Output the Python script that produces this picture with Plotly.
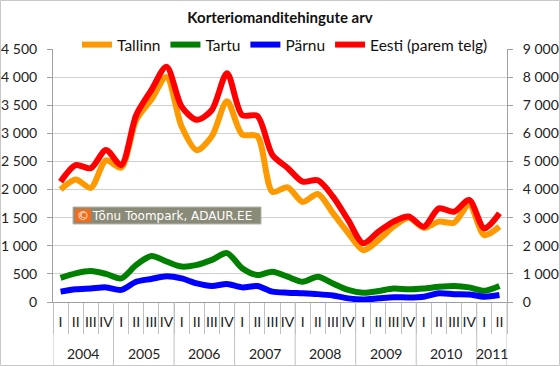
import plotly.graph_objects as go

years = ["2004", "2005", "2006", "2007", "2008", "2009", "2010", "2011"]
quarters_per_year = [4, 4, 4, 4, 4, 4, 4, 2]
quarter_names = ["I", "II", "III", "IV"]

tallinn = [2000, 2180, 2030, 2520, 2390, 3240, 3600, 4000, 3120, 2700, 2950, 3570, 2980, 2950, 1960, 2040,
           1780, 1920, 1580, 1230, 920, 1100, 1340, 1500, 1320, 1430, 1410, 1730, 1190, 1340]
tartu = [430, 510, 550, 500, 420, 660, 820, 720, 630, 660, 750, 870, 600, 480, 540, 450,
         360, 450, 330, 215, 165, 195, 240, 225, 240, 270, 285, 260, 200, 285]
parnu = [185, 225, 240, 260, 215, 360, 410, 460, 420, 330, 285, 320, 260, 285, 185, 165,
         155, 140, 115, 65, 45, 65, 85, 80, 95, 155, 140, 135, 95, 125]
eesti = [4280, 4870, 4760, 5410, 4870, 6650, 7540, 8370, 6950, 6480, 6830, 8140, 6650, 6620, 5230, 4770,
         4280, 4330, 3750, 2920, 2090, 2500, 2860, 3040, 2680, 3330, 3210, 3630, 2620, 3160]

names = ["Tallinn", "Tartu", "Pärnu", "Eesti (parem telg)"]
colors = ["#FF9900", "#008000", "#0000FF", "#FF0000"]

quarter_labels = []
for n in quarters_per_year:
    quarter_labels += quarter_names[:n]
N = len(quarter_labels)
xs = list(range(N))

fig = go.Figure()
for name, vals, col, ax in zip(names, [tallinn, tartu, parnu, eesti], colors, ["y", "y", "y", "y2"]):
    fig.add_trace(go.Scatter(x=xs, y=vals, name=name, mode="lines", yaxis=ax,
                             line=dict(color=col, width=6, shape="spline", smoothing=0.8)))

W, H = 560, 366
L, R, T, B = 53, 53, 49, 64
PW, PH = W - L - R, H - T - B


def px(xp):
    return (xp - L) / PW


def py(yp):
    return (H - B - yp) / PH


fig.update_layout(
    width=W, height=H,
    margin=dict(l=L, r=R, t=T, b=B, autoexpand=False),
    paper_bgcolor="white", plot_bgcolor="white",
    separators=", ",
    font=dict(family="Lato, Open Sans, sans-serif", size=14, color="#222222"),
    title=dict(text="<b>Korteriomanditehingute arv</b>", x=0.5, xanchor="center",
               y=1 - 18 / H, yanchor="middle", font=dict(size=15, color="#111111")),
    showlegend=True,
    legend=dict(orientation="h", x=px(77), xanchor="left",
                y=py(45), yanchor="middle",
                font=dict(size=15.5, color="#111111"), itemwidth=30,
                bgcolor="rgba(0,0,0,0)", tracegroupgap=0),
    xaxis=dict(range=[-0.5, N - 0.5], showgrid=False, showline=True, linecolor="#a0a0a0",
               tickmode="array", tickvals=xs, ticktext=quarter_labels, ticks="",
               ticklabelstandoff=7, zeroline=False,
               minor=dict(tickmode="array", tickvals=[i - 0.5 for i in range(N + 1)],
                          ticks="outside", ticklen=31, tickcolor="#c0c0c0", showgrid=False),
               tickfont=dict(size=14, color="#222222")),
    yaxis=dict(range=[0, 4500], dtick=500, tickformat=",", showgrid=True, gridcolor="#d0d0d0",
               showline=True, linecolor="#a0a0a0", ticks="outside", ticklen=5, tickcolor="#a0a0a0",
               zeroline=False, tickfont=dict(size=14, color="#222222"), ticklabelstandoff=7),
    yaxis2=dict(range=[0, 9000], dtick=1000, tickformat=",", overlaying="y", side="right",
                showgrid=False, showline=True, linecolor="#a0a0a0", ticks="outside", ticklen=5,
                tickcolor="#a0a0a0", zeroline=False, tickfont=dict(size=14, color="#222222"),
                ticklabelstandoff=7),
)

# year separators and labels
start = 0
for yr, n in zip(years, quarters_per_year):
    fig.add_shape(type="line", xref="x", yref="paper", x0=start - 0.5, x1=start - 0.5,
                  y0=py(H - B), y1=py(H - 1), line=dict(color="#c0c0c0", width=1))
    fig.add_annotation(xref="x", yref="paper", x=start + (n - 1) / 2, y=py(353),
                       xanchor="center", yanchor="middle", showarrow=False, text=yr,
                       font=dict(size=14, color="#222222"))
    start += n
fig.add_shape(type="line", xref="x", yref="paper", x0=start - 0.5, x1=start - 0.5,
              y0=py(H - B), y1=py(H - 1), line=dict(color="#c0c0c0", width=1))

# outer frame
fig.add_shape(type="rect", xref="paper", yref="paper",
              x0=px(0.5), x1=px(W - 0.5), y0=py(H - 0.5), y1=py(0.5),
              line=dict(color="#c8c8c8", width=1), fillcolor="rgba(0,0,0,0)", layer="below")

# watermark boxes
fig.add_shape(type="rect", xref="paper", yref="paper",
              x0=px(73), x1=px(261), y0=py(224), y1=py(207),
              line=dict(color="#b4b4ac", width=1), fillcolor="#8a8a78", layer="above")
fig.add_shape(type="rect", xref="paper", yref="paper",
              x0=px(75), x1=px(91), y0=py(222), y1=py(209),
              line=dict(width=0), fillcolor="#f26c1a", layer="above")
fig.add_annotation(xref="paper", yref="paper", x=px(75), y=py(215.5),
                   xanchor="left", yanchor="middle", showarrow=False,
                   text="© Tõnu Toompark, ADAUR.EE",
                   font=dict(size=12, color="white", family="DejaVu Sans"))

fig.write_html("out.html", config={"displayModeBar": False},
               post_script="document.body.style.margin='0';")
